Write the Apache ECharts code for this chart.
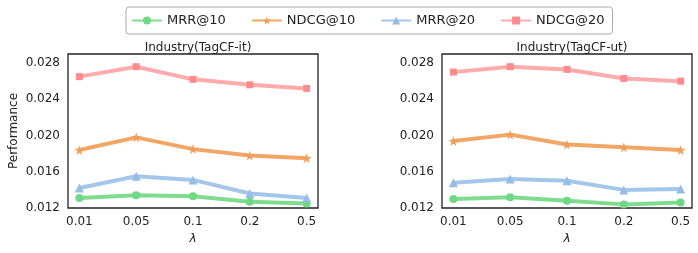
<!DOCTYPE html>
<html><head><meta charset="utf-8">
<script src="https://cdn.jsdelivr.net/npm/echarts@6/dist/echarts.min.js"></script>
<style>html,body{margin:0;padding:0;background:#fff}#c{width:698px;height:253px}</style>
</head><body><div id="c"></div>
<script>
const categories = ['0.01', '0.05', '0.1', '0.2', '0.5'];
const seriesNames = ['MRR@10', 'NDCG@10', 'MRR@20', 'NDCG@20'];
const titles = ['Industry(TagCF-it)', 'Industry(TagCF-ut)'];
const yTicks = [0.012, 0.016, 0.020, 0.024, 0.028];
// left panel (TagCF-it)
const itMRR10  = [0.0131, 0.0134, 0.0133, 0.0127, 0.0125];
const itNDCG10 = [0.0184, 0.0198, 0.0185, 0.0178, 0.0175];
const itMRR20  = [0.0142, 0.0155, 0.0151, 0.0136, 0.0131];
const itNDCG20 = [0.0265, 0.0276, 0.0262, 0.0256, 0.0252];
// right panel (TagCF-ut)
const utMRR10  = [0.0130, 0.0132, 0.0128, 0.0124, 0.0126];
const utNDCG10 = [0.0194, 0.0201, 0.0190, 0.0187, 0.0184];
const utMRR20  = [0.0148, 0.0152, 0.0150, 0.0140, 0.0141];
const utNDCG20 = [0.0270, 0.0276, 0.0273, 0.0263, 0.0260];

const lineColors = ['#7fdc8f', '#f2a666', '#a3c6ea', '#ffabab'];
const markColors = ['#6fd882', '#f09e58', '#95bde6', '#ff8c8c'];
const star = 'path://M50,0 L61,35 L98,35 L68,57 L79,91 L50,70 L21,91 L32,57 L2,35 L39,35 Z';
const symbols = ['circle', star, 'triangle', 'rect'];
const symSizes = [8, 10, 9, 7];
const font = 'DejaVu Sans';

const panels = [[itMRR10, itNDCG10, itMRR20, itNDCG20], [utMRR10, utNDCG10, utMRR20, utNDCG20]];
const gridLefts = [68, 442];

const grids = [], xAxes = [], yAxes = [], series = [], titleOpts = [];
panels.forEach((p, gi) => {
  grids.push({left: gridLefts[gi], top: 54, width: 250, height: 154, show: true,
    borderColor: '#222', borderWidth: 1.3, backgroundColor: 'transparent'});
  xAxes.push({type: 'value', gridIndex: gi, min: -0.2, max: 4.2,
    name: 'λ', nameLocation: 'middle', nameGap: 24,
    nameTextStyle: {fontFamily: font, fontSize: 12, fontStyle: 'italic', color: '#222'},
    axisLine: {show: false}, axisTick: {show: false}, splitLine: {show: false},
    axisLabel: {fontFamily: font, fontSize: 12, color: '#222', margin: 8,
      customValues: [0, 1, 2, 3, 4], formatter: v => categories[Math.round(v)] ?? ''}});
  yAxes.push({type: 'value', gridIndex: gi, min: 0.012, max: 0.029, interval: 0.004,
    name: gi === 0 ? 'Performance' : '', nameLocation: 'middle', nameGap: 48,
    nameTextStyle: {fontFamily: font, fontSize: 12, color: '#222'},
    axisLine: {show: false}, axisTick: {show: false}, splitLine: {show: false},
    axisLabel: {fontFamily: font, fontSize: 12, color: '#222', margin: 8,
      customValues: yTicks, formatter: v => v.toFixed(3)}});
  titleOpts.push({text: titles[gi], left: gridLefts[gi] + 125, top: 37, textAlign: 'center',
    textStyle: {fontFamily: font, fontSize: 12, fontWeight: 'normal', color: '#222'}});
  p.forEach((arr, si) => {
    series.push({name: seriesNames[si], type: 'line', xAxisIndex: gi, yAxisIndex: gi,
      data: arr.map((v, i) => [i, v]), symbol: symbols[si], symbolSize: symSizes[si],
      showAllSymbol: true, animation: false,
      lineStyle: {color: lineColors[si], width: 4},
      itemStyle: {color: markColors[si], borderWidth: 0}, z: 2 + si});
  });
});

const chart = echarts.init(document.getElementById('c'), null, {renderer: 'canvas'});
chart.setOption({
  animation: false,
  title: titleOpts,
  legend: {data: seriesNames, left: 126, top: 7,
    orient: 'horizontal', itemWidth: 30, itemHeight: 10, itemGap: 25,
    borderColor: '#aaa', borderWidth: 1, borderRadius: 3, padding: [7, 8, 7, 5],
    textStyle: {fontFamily: font, fontSize: 13, color: '#222'}},
  grid: grids, xAxis: xAxes, yAxis: yAxes, series: series
});
</script></body></html>
